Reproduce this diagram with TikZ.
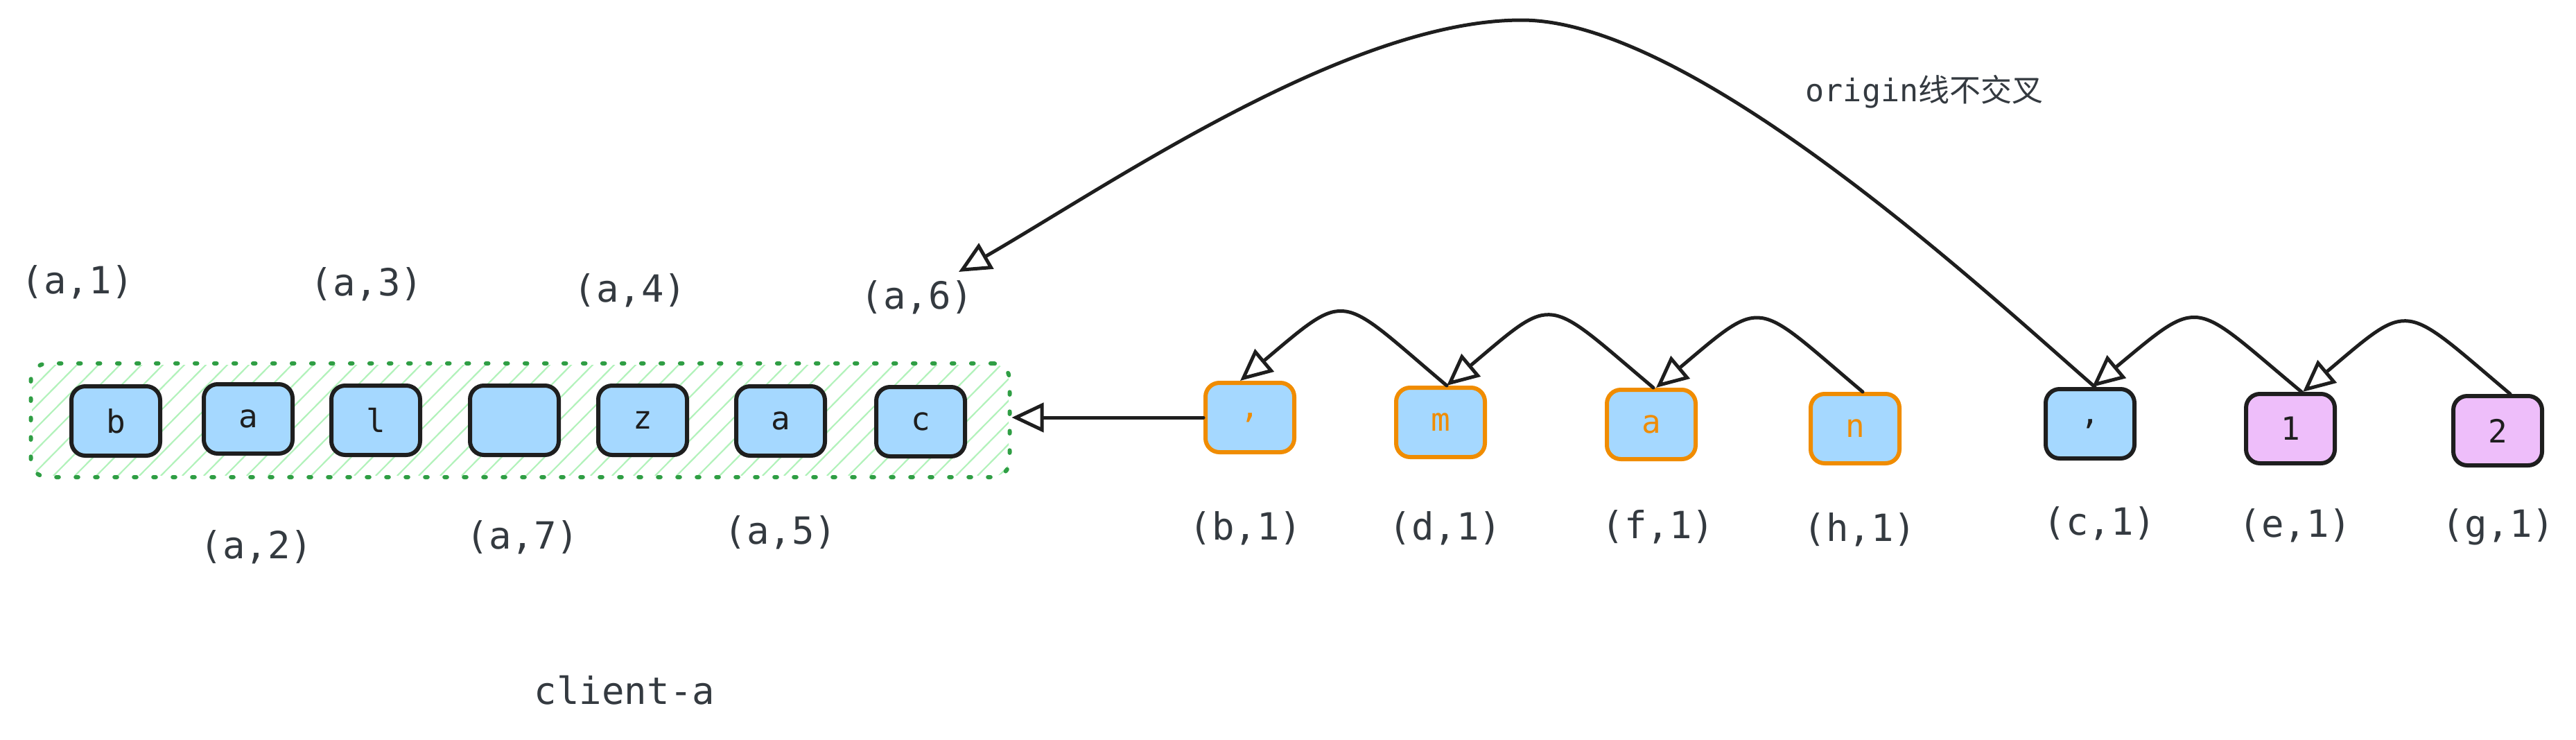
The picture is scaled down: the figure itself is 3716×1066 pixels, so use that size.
\documentclass[tikz,border=0pt]{standalone}
\usepackage{fontspec}
\newfontfamily\mymono{DejaVu Sans Mono}
\newfontfamily\mycjk{Noto Sans CJK SC}
\usetikzlibrary{arrows.meta}
\definecolor{ink}{HTML}{1E1E1E}
\definecolor{labc}{HTML}{343A40}
\definecolor{bluef}{HTML}{A5D8FF}
\definecolor{pinkf}{HTML}{EEBEFA}
\definecolor{orng}{HTML}{F08C00}
\definecolor{grn}{HTML}{2F9E44}
\definecolor{hatchc}{HTML}{B2F2BB}
\newcommand\cellfnt{\mymono\fontsize{23pt}{27pt}\selectfont}
\newcommand\labfnt{\mymono\fontsize{27pt}{32pt}\selectfont}
\tikzset{
  cell/.style={draw=ink, line width=3pt, rounded corners=10pt, fill=bluef,
    minimum width=64pt, minimum height=50pt, inner sep=0pt, font=\cellfnt, text=ink},
  ocell/.style={cell, draw=orng, text=orng},
  pcell/.style={cell, fill=pinkf},
  lab/.style={font=\labfnt, text=labc, inner sep=0pt},
  conn/.style={draw=ink, line width=2.5pt, line cap=round,
    -{Triangle[open,length=23pt,width=21pt]}},
  hatchline/.style={draw=hatchc, line width=1.1pt},
  contbox/.style={draw=grn, line width=3pt, dash pattern=on 1.8pt off 12.2pt,
    line cap=round, rounded corners=12pt, minimum width=706pt, minimum height=82pt, inner sep=0pt}
}
\begin{document}
\begin{tikzpicture}[x=0.5pt,y=-0.5pt]
\useasboundingbox (0,0) rectangle (3716,1066);
% hatch of container
\begin{scope}
  \clip[rounded corners=10pt] (46,526) rectangle (1455,686);
  \foreach \i in {-7,...,46} \draw[hatchline] ({46+31*\i},686) -- ++(165,-167);
\end{scope}
\node[contbox] (cont) at (750.5,606) {};
% left cells
\node[cell] (L1) at (167,607) {b};
\node[cell] (L2) at (358,604) {a};
\node[cell] (L3) at (542,606) {l};
\node[cell] (L4) at (742,606) {};
\node[cell] (L5) at (927,606) {z};
\node[cell] (L6) at (1126,607) {a};
\node[cell] (L7) at (1328,608) {c};
% orange cells
\node[ocell] (B1) at (1803,602) {,};
\node[ocell] (D1) at (2078,609) {m};
\node[ocell] (F1) at (2382,612) {a};
\node[ocell] (H1) at (2676,618) {n};
% right cells
\node[cell] (C1) at (3015,611) {,};
\node[pcell] (E1) at (3304,618) {1};
\node[pcell] (G1) at (3603,621) {2};
% labels
\node[lab] (la1) at (112,407) {(a,1)};
\node[lab] (la3) at (529,410) {(a,3)};
\node[lab] (la4) at (909,419) {(a,4)};
\node[lab] (la6) at (1323,429) {(a,6)};
\node[lab] (la2) at (370,789) {(a,2)};
\node[lab] (la7) at (754,775) {(a,7)};
\node[lab] (la5) at (1126,768) {(a,5)};
\node[lab] (lb1) at (1797,762) {(b,1)};
\node[lab] (ld1) at (2085,762) {(d,1)};
\node[lab] (lf1) at (2392,760) {(f,1)};
\node[lab] (lh1) at (2683,764) {(h,1)};
\node[lab] (lc1) at (3029,755) {(c,1)};
\node[lab] (le1) at (3311,758) {(e,1)};
\node[lab] (lg1) at (3604,760) {(g,1)};
\node[lab] (client) at (901,995) {client-a};
\node[lab, font=\fontsize{22.5pt}{27pt}\selectfont] (note) at (2776,132) {{\mymono origin}{\mycjk 线不交叉}};
% connectors
\draw[conn] (B1.west) -- (B1.west -| cont.east);
\draw[conn] ([xshift=5.5pt]H1.north) .. controls +(-158,-133) and +(158,-133) .. ([xshift=3.5pt]F1.north);
\draw[conn] ([xshift=1.5pt]F1.north) .. controls +(-158,-133) and +(158,-133) .. ([xshift=4.5pt]D1.north);
\draw[conn] ([xshift=4.5pt]D1.north) .. controls +(-158,-133) and +(158,-133) .. ([xshift=-7pt]B1.north);
\draw[conn] ([xshift=9pt]G1.north) .. controls +(-158,-133) and +(158,-133) .. ([xshift=9pt]E1.north);
\draw[conn] ([xshift=8pt]E1.north) .. controls +(-160,-133) and +(160,-133) .. ([xshift=1.5pt]C1.north);
\coordinate (tipA6) at (1383,392);
\coordinate (bigpeak) at (2195,29);
\draw[conn] ([xshift=3.5pt]C1.north) .. controls +(-151,-131) and +(250,0) .. (bigpeak)
  .. controls +(-250,0) and +(217,-125) .. (tipA6);
\end{tikzpicture}
\end{document}
